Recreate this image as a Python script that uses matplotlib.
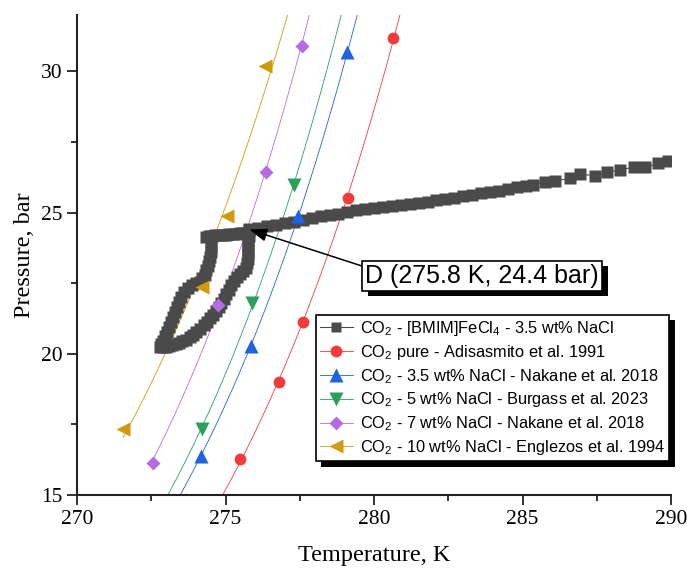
import matplotlib.pyplot as plt
import matplotlib.patheffects as pe
from matplotlib.lines import Line2D
from matplotlib.ticker import MultipleLocator
import numpy as np

plt.rcParams['font.family'] = 'Liberation Serif'
plt.rcParams['mathtext.fontset'] = 'custom'
plt.rcParams['mathtext.rm'] = 'Liberation Sans'
plt.rcParams['mathtext.it'] = 'Liberation Sans:italic'

# isochoric run, CO2 + [BMIM]FeCl4 in 3.5 wt% NaCl (loop first, then the heating tail)
bmim_T = [275.72, 275.60, 275.49, 275.37, 275.25, 275.13, 275.02, 274.90, 274.78, 274.66,
          274.55, 274.44, 274.34,
          274.50, 274.51, 274.50, 274.48, 274.45, 274.41, 274.36, 274.31, 274.22, 274.14,
          274.00, 273.87, 273.73, 273.60, 273.51, 273.43, 273.36, 273.30, 273.23,
          273.16, 273.10, 273.03, 272.96, 272.90, 272.84, 272.79,
          272.90, 273.00, 273.10, 273.20, 273.32, 273.43, 273.55, 273.67, 273.79,
          273.91, 274.02, 274.14, 274.26, 274.38, 274.48, 274.58, 274.68, 274.78,
          274.86, 274.95, 275.03, 275.12, 275.20, 275.29, 275.39, 275.49, 275.59,
          275.69, 275.74, 275.76, 275.76, 275.76, 275.76, 275.76, 275.78, 275.79,
          275.80, 276.10, 276.40, 276.70, 277.00, 277.30, 277.60, 277.90, 278.20,
          278.50, 278.80, 279.10, 279.40, 279.70, 280.00, 280.30, 280.60, 280.90,
          281.20, 281.50, 281.80, 282.10, 282.40, 282.70, 283.00, 283.30, 283.60,
          283.90, 284.20, 284.50, 284.80, 285.10, 285.35, 285.75, 286.10, 286.60,
          286.94, 287.44, 287.85, 288.28, 288.75, 289.12, 289.56, 289.90]
bmim_P = [24.28, 24.27, 24.26, 24.25, 24.24, 24.23, 24.22, 24.21, 24.20, 24.19,
          24.18, 24.17, 24.15,
          23.98, 23.79, 23.62, 23.44, 23.28, 23.12, 22.96, 22.80, 22.67, 22.55,
          22.50, 22.45, 22.32, 22.20, 22.02, 21.84, 21.66, 21.49, 21.31,
          21.13, 20.95, 20.78, 20.62, 20.46, 20.35, 20.25,
          20.25, 20.25, 20.28, 20.32, 20.35, 20.39, 20.44, 20.50, 20.58,
          20.67, 20.78, 20.89, 21.01, 21.13, 21.25, 21.38, 21.52, 21.67,
          21.81, 21.95, 22.11, 22.27, 22.43, 22.59, 22.71, 22.84, 22.94,
          23.05, 23.21, 23.37, 23.53, 23.69, 23.85, 24.01, 24.17, 24.33,
          24.40, 24.45, 24.52, 24.57, 24.62, 24.68, 24.74, 24.80, 24.86,
          24.91, 24.96, 25.03, 25.08, 25.12, 25.16, 25.20, 25.24, 25.28,
          25.31, 25.35, 25.39, 25.43, 25.48, 25.53, 25.58, 25.62, 25.68,
          25.72, 25.78, 25.84, 25.90, 25.94, 25.99, 26.08, 26.12, 26.21,
          26.35, 26.31, 26.42, 26.52, 26.60, 26.60, 26.74, 26.81]

# literature equilibrium points
pure_T = [275.50, 276.80, 277.62, 279.11, 280.63]
pure_P = [16.28, 19.00, 21.11, 25.50, 31.18]
nacl35_T = [274.16, 275.86, 277.45, 279.10]
nacl35_P = [16.39, 20.26, 24.86, 30.69]
nacl5_T = [274.20, 275.88, 277.32]
nacl5_P = [17.33, 21.80, 25.97]
nacl7_T = [272.55, 274.75, 276.35, 277.57]
nacl7_P = [16.15, 21.74, 26.43, 30.88]
nacl10_T = [271.56, 274.20, 275.04, 276.33]
nacl10_P = [17.34, 22.35, 24.89, 30.19]

bmim_label = r'CO$_2$ - [BMIM]FeCl$_4$ - 3.5 wt% NaCl'
ref_labels = [r'CO$_2$ pure - Adisasmito et al. 1991',
              r'CO$_2$ - 3.5 wt% NaCl - Nakane et al. 2018',
              r'CO$_2$ - 5 wt% NaCl - Burgass et al. 2023',
              r'CO$_2$ - 7 wt% NaCl - Nakane et al. 2018',
              r'CO$_2$ - 10 wt% NaCl - Englezos et al. 1994']

d_T, d_P = 275.8, 24.4
d_label = 'D (275.8 K, 24.4 bar)'

gray = '#4a4a4a'
refs = [
    (pure_T, pure_P, '#f23b3b', 'o', 8.5),
    (nacl35_T, nacl35_P, '#1f63e0', '^', 9.5),
    (nacl5_T, nacl5_P, '#2b9f5c', 'v', 9.5),
    (nacl7_T, nacl7_P, '#b76be3', 'D', 7.5),
    (nacl10_T, nacl10_P, '#cf9a0b', '<', 9.5),
]

fig = plt.figure(figsize=(6.87, 5.69), dpi=100)
ax = fig.add_axes([0.112, 0.130, 0.865, 0.844])

handles = []
for (T, P, c, m, ms), lab in zip(refs, ref_labels):
    T = np.array(T)
    P = np.array(P)
    # exponential fit ln(P) ~ T
    fit = np.polyfit(T, np.log(P), 1)
    tt = np.linspace(min(T.min(), 272.6), 283, 200)
    ax.plot(tt, np.exp(np.polyval(fit, tt)), color=c, lw=0.6, zorder=2)
    ax.plot(T, P, ls='none', marker=m, color=c, ms=ms, mec='none', zorder=4)
    handles.append(Line2D([], [], color=c, lw=0.6, marker=m, ms=ms, mec='none'))

ax.plot(bmim_T, bmim_P, '-', marker='s', color=gray, ms=9, lw=0.8, mec='none', zorder=3)
handles.insert(0, Line2D([], [], color=gray, lw=0.8, marker='s', ms=7.5, mec='none'))

ax.set_xlim(270, 290)
ax.set_ylim(15, 32)
ax.set_xticks([270, 275, 280, 285, 290])
ax.set_yticks([15, 20, 25, 30])
ax.xaxis.set_minor_locator(MultipleLocator(2.5))
ax.yaxis.set_minor_locator(MultipleLocator(2.5))
ax.tick_params(which='major', direction='out', length=7, width=1.3, labelsize=15.5, color='#222222')
ax.tick_params(which='minor', direction='out', length=4, width=1.3, color='#222222')
for s in ['top', 'right']:
    ax.spines[s].set_visible(False)
for s in ['left', 'bottom']:
    ax.spines[s].set_linewidth(1.5)
    ax.spines[s].set_color('#222222')

ax.set_xlabel('Temperature, K', fontsize=17.5, labelpad=12)
ax.set_ylabel('Pressure, bar', fontsize=17.5, labelpad=4)

shadow = [pe.SimplePatchShadow(offset=(4, -4), shadow_rgbFace='k', alpha=1), pe.Normal()]

leg = ax.legend(handles, [bmim_label] + ref_labels, loc='upper right',
                bbox_to_anchor=(0.997, 0.375), borderaxespad=0,
                prop=dict(family='Liberation Sans', size=11.8),
                fancybox=False, framealpha=1, edgecolor='k',
                handlelength=2.0, handletextpad=0.45, labelspacing=0.3, borderpad=0.25)
leg.get_frame().set_linewidth(1.2)
leg.get_frame().set_path_effects(shadow)
leg.set_zorder(10)

ann = ax.annotate(d_label, xy=(d_T, d_P), xytext=(283.64, 22.77),
                  ha='center', va='center', fontsize=18, family='Liberation Sans',
                  bbox=dict(boxstyle='square,pad=0.12', fc='w', ec='k', lw=1.2),
                  arrowprops=dict(arrowstyle='-|>,head_length=0.6,head_width=0.22',
                                  color='k', lw=1.1, relpos=(0, 0.85),
                                  shrinkA=0, shrinkB=0),
                  zorder=10)
ann.get_bbox_patch().set_path_effects(shadow)

fig.savefig('out.png', dpi=100)
